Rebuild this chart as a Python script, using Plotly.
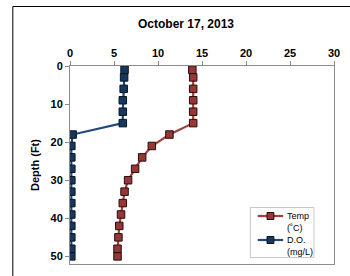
import plotly.graph_objects as go

depth = [1, 3, 6, 9, 12, 15, 18, 21, 24, 27, 30, 33, 36, 39, 42, 45, 48, 50]
temp_c = [13.9, 14.0, 14.0, 14.0, 14.0, 14.0, 11.3, 9.3, 8.2, 7.4, 6.6, 6.2, 6.0, 5.8, 5.6, 5.5, 5.4, 5.4]
do_mgl = [6.2, 6.15, 6.1, 6.0, 6.0, 6.0, 0.3, 0.15, 0.15, 0.15, 0.15, 0.15, 0.15, 0.15, 0.15, 0.15, 0.15, 0.15]

title_text = "October 17, 2013"
x_ticks = [0, 5, 10, 15, 20, 25, 30]
y_ticks = [0, 10, 20, 30, 40, 50]
series_names = [["Temp", "(˚C)"], ["D.O.", "(mg/L)"]]

FONT = "Liberation Sans, Arial, sans-serif"
RED_LINE, RED_FILL, RED_EDGE = "#A0403E", "#953735", "#2a0c0c"
BLUE_LINE, BLUE_FILL, BLUE_EDGE = "#1F497D", "#17375E", "#0a1420"

# plot area in pixels
L, R, T, B = 70, 340, 66, 264
def px(x):
    return (x - L) / (R - L)
def py(y):
    return (B - y) / (B - T)

fig = go.Figure()
fig.add_trace(go.Scatter(
    x=temp_c, y=depth, mode="lines+markers", name="Temp (˚C)",
    line=dict(color=RED_LINE, width=2.2),
    marker=dict(symbol="square", size=7.5, color=RED_FILL, line=dict(color=RED_EDGE, width=1)),
))
fig.add_trace(go.Scatter(
    x=do_mgl, y=depth, mode="lines+markers", name="D.O. (mg/L)",
    line=dict(color=BLUE_LINE, width=2.2),
    marker=dict(symbol="square", size=7.5, color=BLUE_FILL, line=dict(color=BLUE_EDGE, width=1)),
))

fig.update_layout(
    width=350, height=276,
    margin=dict(l=L, r=350 - R, t=T, b=276 - B),
    paper_bgcolor="white", plot_bgcolor="white",
    font=dict(family=FONT, color="black"),
    title=dict(text="<b>" + title_text + "</b>", x=186 / 350, xanchor="center",
               y=1 - 24 / 276, yanchor="middle", font=dict(size=12, family=FONT)),
    showlegend=False,
)
fig.update_xaxes(
    side="top", range=[0, 30], tickvals=x_ticks,
    ticks="outside", ticklen=4, tickcolor="#8c8c8c",
    showline=True, linecolor="#8c8c8c", linewidth=1, mirror=True,
    showgrid=False, zeroline=False,
    tickfont=dict(size=11, family=FONT, weight="bold"),
)
fig.update_yaxes(
    range=[52, 0], tickvals=y_ticks,
    ticks="outside", ticklen=4, tickcolor="#8c8c8c",
    showline=True, linecolor="#8c8c8c", linewidth=1, mirror=True,
    showgrid=False, zeroline=False,
    tickfont=dict(size=11, family=FONT, weight="bold"),
    title=dict(text="<b>Depth (Ft)</b>", font=dict(size=11, family=FONT), standoff=8),
)

# outer chart border (left and top edges visible)
fig.add_shape(type="line", xref="paper", yref="paper",
              x0=px(11.5), x1=px(11.5), y0=py(6.5), y1=py(290),
              line=dict(color="black", width=1))
fig.add_shape(type="line", xref="paper", yref="paper",
              x0=px(11.5), x1=px(360), y0=py(6.5), y1=py(6.5),
              line=dict(color="black", width=1))

# legend (drawn manually to match the original compact box)
fig.add_shape(type="rect", xref="paper", yref="paper",
              x0=px(254.5), x1=px(319.5), y0=py(207.5), y1=py(257.5),
              line=dict(color="#c8c8c8", width=1), fillcolor="white", layer="above")
for (lc, fc, ec), names, yc in [((RED_LINE, RED_FILL, RED_EDGE), series_names[0], 216),
                                 ((BLUE_LINE, BLUE_FILL, BLUE_EDGE), series_names[1], 240)]:
    fig.add_shape(type="line", xref="paper", yref="paper",
                  x0=px(262), x1=px(288), y0=py(yc), y1=py(yc),
                  line=dict(color=lc, width=2.2), layer="above")
    fig.add_shape(type="rect", xref="paper", yref="paper",
                  x0=px(271.5), x1=px(278.5), y0=py(yc + 3.5), y1=py(yc - 3.5),
                  line=dict(color=ec, width=1), fillcolor=fc, layer="above")
    for i, t in enumerate(names):
        fig.add_annotation(text=t, xref="paper", yref="paper", x=px(289.5), y=py(yc + 12 * i - 0.3),
                           xanchor="left", yanchor="middle", showarrow=False,
                           font=dict(size=9, family=FONT, color="black"))

fig.write_html("out.html", config={"displayModeBar": False},
               post_script="document.body.style.margin='0';")
